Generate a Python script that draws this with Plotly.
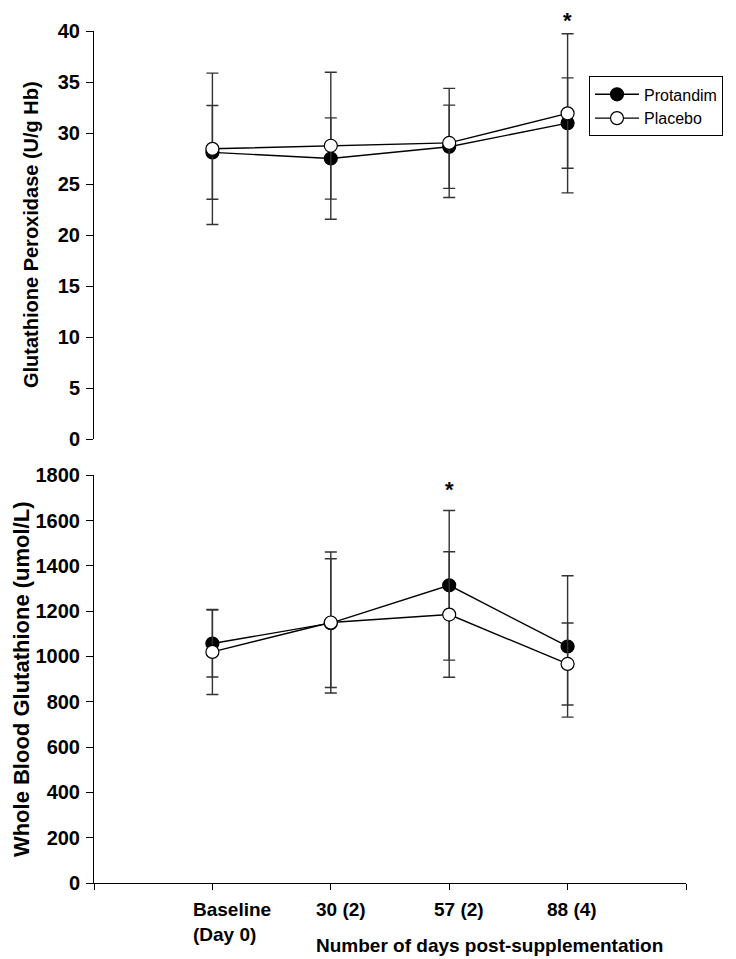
import plotly.graph_objects as go

# ---------------- data ----------------
timepoints = ["Baseline<br>(Day 0)", "30 (2)", "57 (2)", "88 (4)"]
series_names = ["Protandim", "Placebo"]

gpx_protandim = [28.1, 27.5, 28.65, 30.97]
gpx_protandim_sd = [4.6, 3.98, 4.08, 4.43]
gpx_placebo = [28.45, 28.75, 29.03, 31.93]
gpx_placebo_sd = [7.42, 7.2, 5.35, 7.8]

gsh_protandim = [1057, 1147, 1314, 1044]
gsh_protandim_sd = [148, 284, 330, 312]
gsh_placebo = [1020, 1150, 1185, 967]
gsh_placebo_sd = [188, 311, 277, 181]

gpx_ticks = [0, 5, 10, 15, 20, 25, 30, 35, 40]
gsh_ticks = [0, 200, 400, 600, 800, 1000, 1200, 1400, 1600, 1800]

x_title = "Number of days post-supplementation"
gpx_title = "Glutathione Peroxidase (U/g Hb)"
gsh_title = "Whole Blood Glutathione (umol/L)"
significant = [("gpx", 3), ("gsh", 2)]  # panel, timepoint index marked with *

# ---------------- style ----------------
FONT = "Liberation Sans, Arial, Helvetica, sans-serif"
xs = [i + 1 for i in range(len(timepoints))]
x_range = [0, len(timepoints) + 1]

panels = {
    "gpx": dict(xa="x", ya="y", data=[(gpx_protandim, gpx_protandim_sd), (gpx_placebo, gpx_placebo_sd)]),
    "gsh": dict(xa="x2", ya="y2", data=[(gsh_protandim, gsh_protandim_sd), (gsh_placebo, gsh_placebo_sd)]),
}
fills = ["black", "white"]

fig = go.Figure()
for pname, p in panels.items():
    for k, (vals, sds) in enumerate(p["data"]):
        fig.add_trace(go.Scatter(
            x=xs, y=vals, xaxis=p["xa"], yaxis=p["ya"],
            name=series_names[k], legendgroup=series_names[k],
            showlegend=(pname == "gpx"),
            mode="lines+markers",
            line=dict(color="black", width=1.4),
            marker=dict(size=13, color=fills[k], line=dict(color="black", width=1.2)),
            error_y=dict(type="data", array=sds, symmetric=True, color="#333333",
                         thickness=1.4, width=6),
            cliponaxis=False,
        ))

annotations = []
# significance stars (placed above the highest error bar cap)
star_shift = {"gpx": -1, "gsh": 7}
for pname, idx in significant:
    p = panels[pname]
    top = max(v[idx] + s[idx] for v, s in p["data"])
    annotations.append(dict(
        x=xs[idx], y=top, xref=p["xa"], yref=p["ya"], text="<b>*</b>",
        showarrow=False, yanchor="bottom", yshift=star_shift[pname],
        font=dict(family=FONT, size=22, color="black")))

# x tick labels (left aligned under ticks)
label_shift = [-21, -17, -17, -23]
for i, t in enumerate(timepoints):
    annotations.append(dict(
        x=xs[i], y=0, xref="x2", yref="paper", text=t, showarrow=False,
        xanchor="left", yanchor="top", align="left", xshift=label_shift[i], yshift=-14,
        font=dict(family=FONT, size=19, color="black", weight="bold")))
annotations.append(dict(
    x=xs[1], y=0, xref="x2", yref="paper", text=x_title, showarrow=False,
    xanchor="left", yanchor="top", xshift=-17, yshift=-50,
    font=dict(family=FONT, size=19, color="black", weight="bold")))

# y-axis titles
annotations.append(dict(
    x=0, y=0.5, xref="paper", yref="y domain", text=gpx_title, showarrow=False,
    textangle=-90, xanchor="center", yanchor="middle", xshift=-63,
    font=dict(family=FONT, size=20, color="black", weight="bold")))
annotations.append(dict(
    x=0, y=0.5, xref="paper", yref="y2 domain", text=gsh_title, showarrow=False,
    textangle=-90, xanchor="center", yanchor="middle", xshift=-73,
    font=dict(family=FONT, size=22, color="black", weight="bold")))

yaxis_common = dict(
    showline=True, linecolor="black", linewidth=1, ticks="outside", ticklen=7,
    tickcolor="black", tickwidth=1, showgrid=False, zeroline=False,
    tickfont=dict(family=FONT, size=20, color="black", weight="bold"),
    ticklabelstandoff=2,
)

# page adds an 8px body margin, so the figure is 8px smaller than the window
fig.update_layout(
    width=728, height=951,
    margin=dict(l=86, r=50, t=12, b=76),
    paper_bgcolor="white", plot_bgcolor="white",
    showlegend=True,
    legend=dict(
        x=(589 - 94) / 592, y=1 - (66 - 20) / 863, xanchor="left", yanchor="top",
        bordercolor="black", borderwidth=1, bgcolor="white",
        font=dict(family=FONT, size=16, color="black"),
        itemwidth=44, tracegroupgap=0,
    ),
    xaxis=dict(domain=[0, 1], range=x_range, anchor="y", visible=False),
    yaxis=dict(domain=[0.5211, 1], range=[0, 40], tickvals=gpx_ticks, anchor="x", **yaxis_common),
    xaxis2=dict(domain=[0, 1], range=x_range, anchor="y2", showline=True, linecolor="black",
                linewidth=1, ticks="outside", ticklen=6, tickcolor="black",
                tickvals=list(range(0, len(timepoints) + 2)), showticklabels=False,
                showgrid=False, zeroline=False),
    yaxis2=dict(domain=[0, 0.4786], range=[0, 1800], tickvals=gsh_ticks, anchor="x2", **yaxis_common),
    annotations=annotations,
)

fig.write_html("out.html")
